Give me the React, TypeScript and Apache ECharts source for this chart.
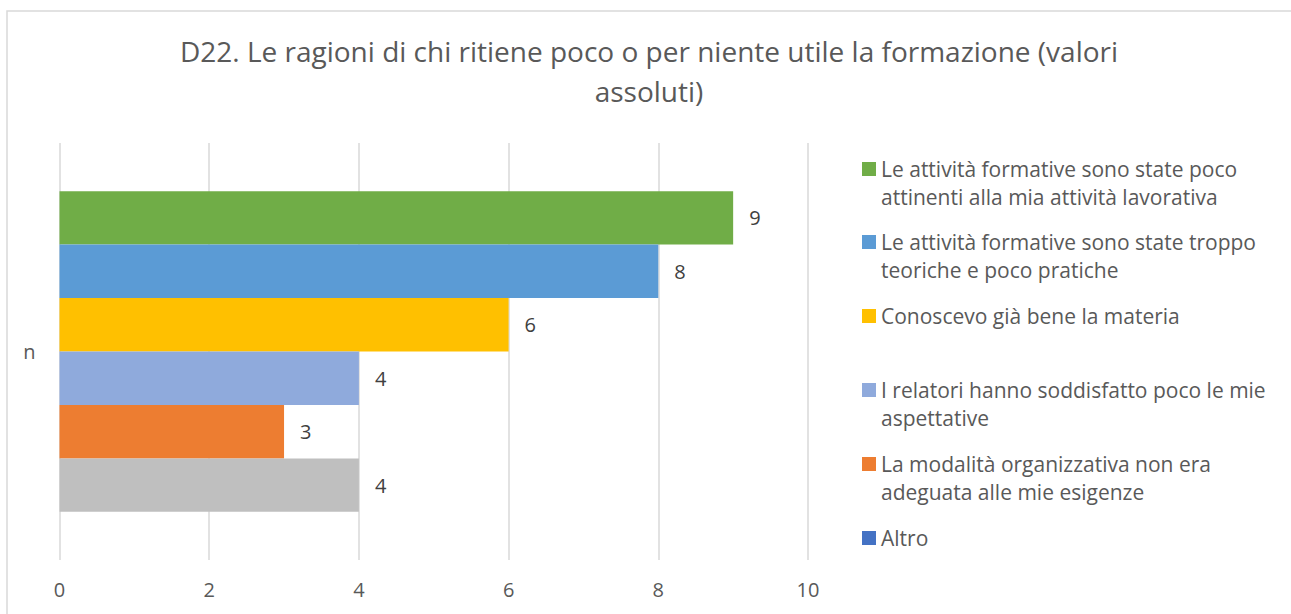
import React, { useEffect, useRef } from "react";
import * as echarts from "echarts";

const categories = ["n"];
const seriesNames = [
  "Le attività formative sono state poco attinenti alla mia attività lavorativa",
  "Le attività formative sono state troppo teoriche e poco pratiche",
  "Conoscevo già bene la materia",
  "I relatori hanno soddisfatto poco le mie aspettative",
  "La modalità organizzativa non era adeguata alle mie esigenze",
  "Altro",
];
const legendLabels = [
  "Le attività formative sono state poco\nattinenti alla mia attività lavorativa",
  "Le attività formative sono state troppo\nteoriche e poco pratiche",
  "Conoscevo già bene la materia",
  "I relatori hanno soddisfatto poco le mie\naspettative",
  "La modalità organizzativa non era\nadeguata alle mie esigenze",
  "Altro",
];
const seriesValues = [9, 8, 6, 4, 3, 4];
const barColors = ["#70AD47", "#5B9BD5", "#FFC000", "#8FAADC", "#ED7D31", "#BFBFBF"];
const legendColors = ["#70AD47", "#5B9BD5", "#FFC000", "#8FAADC", "#ED7D31", "#4472C4"];
const xTicks = { min: 0, max: 10, interval: 2 };
const titleText =
  "D22. Le ragioni di chi ritiene poco o per niente utile la formazione (valori\nassoluti)";

const FONT = "'Open Sans', 'Noto Sans', sans-serif";
const legendIconCenters = [169, 242, 316, 390, 464, 538];

export default function App() {
  const ref = useRef<HTMLDivElement>(null);
  useEffect(() => {
    if (!ref.current) return;
    const chart = echarts.init(ref.current, null, { renderer: "svg" });
    const legends = seriesNames.map((name, i) => {
      const twoLine = legendLabels[i].includes("\n");
      const label = twoLine ? " \n" + legendLabels[i] : legendLabels[i];
      return {
        orient: "vertical",
        left: 862,
        top: legendIconCenters[i] - (twoLine ? 42 : 14),
        padding: 0,
        itemWidth: 14,
        itemHeight: 14,
        itemGap: 0,
        icon: "rect",
        selectedMode: false,
        formatter: () => label,
        textStyle: {
          fontFamily: FONT,
          fontSize: 21,
          color: "#595959",
          lineHeight: 28,
        },
        data: [{ name, itemStyle: { color: legendColors[i] } }],
      };
    });
    chart.setOption({
      animation: false,
      backgroundColor: "#ffffff",
      title: {
        text: titleText,
        left: 644,
        textAlign: "center",
        top: 26,
        textStyle: {
          fontFamily: FONT,
          fontSize: 28,
          fontWeight: "normal",
          color: "#595959",
          lineHeight: 40,
        },
      },
      legend: legends,
      grid: { left: 59.5, right: 1291 - 808, top: 143, bottom: 614 - 560, containLabel: false },
      xAxis: {
        type: "value",
        min: xTicks.min,
        max: xTicks.max,
        interval: xTicks.interval,
        axisLine: { show: false },
        axisTick: { show: false },
        axisLabel: { fontFamily: FONT, fontSize: 20, color: "#595959", margin: 19 },
        splitLine: { show: true, lineStyle: { color: "#d9d9d9", width: 1.5 } },
      },
      yAxis: {
        type: "category",
        data: categories,
        inverse: true,
        axisLine: { show: false },
        axisTick: { show: false },
        axisLabel: { fontFamily: FONT, fontSize: 20, color: "#595959", margin: 24 },
      },
      series: seriesNames.map((name, i) => ({
        type: "bar",
        name,
        data: [seriesValues[i]],
        barGap: "0%",
        barCategoryGap: "23.1%",
        itemStyle: { color: barColors[i] },
        label: {
          show: true,
          position: "right",
          distance: 16,
          fontFamily: FONT,
          fontSize: 20,
          color: "#404040",
        },
      })),
      graphic: [
        {
          type: "rect",
          shape: { x: 7, y: 11, width: 1400, height: 800 },
          style: { fill: "none", stroke: "#d9d9d9", lineWidth: 1.5 },
          silent: true,
          z: -10,
        },
      ],
    });
    return () => chart.dispose();
  }, []);
  return (
    <div
      ref={ref}
      style={{ position: "fixed", left: 0, top: 0, width: 1291, height: 614 }}
    />
  );
}
